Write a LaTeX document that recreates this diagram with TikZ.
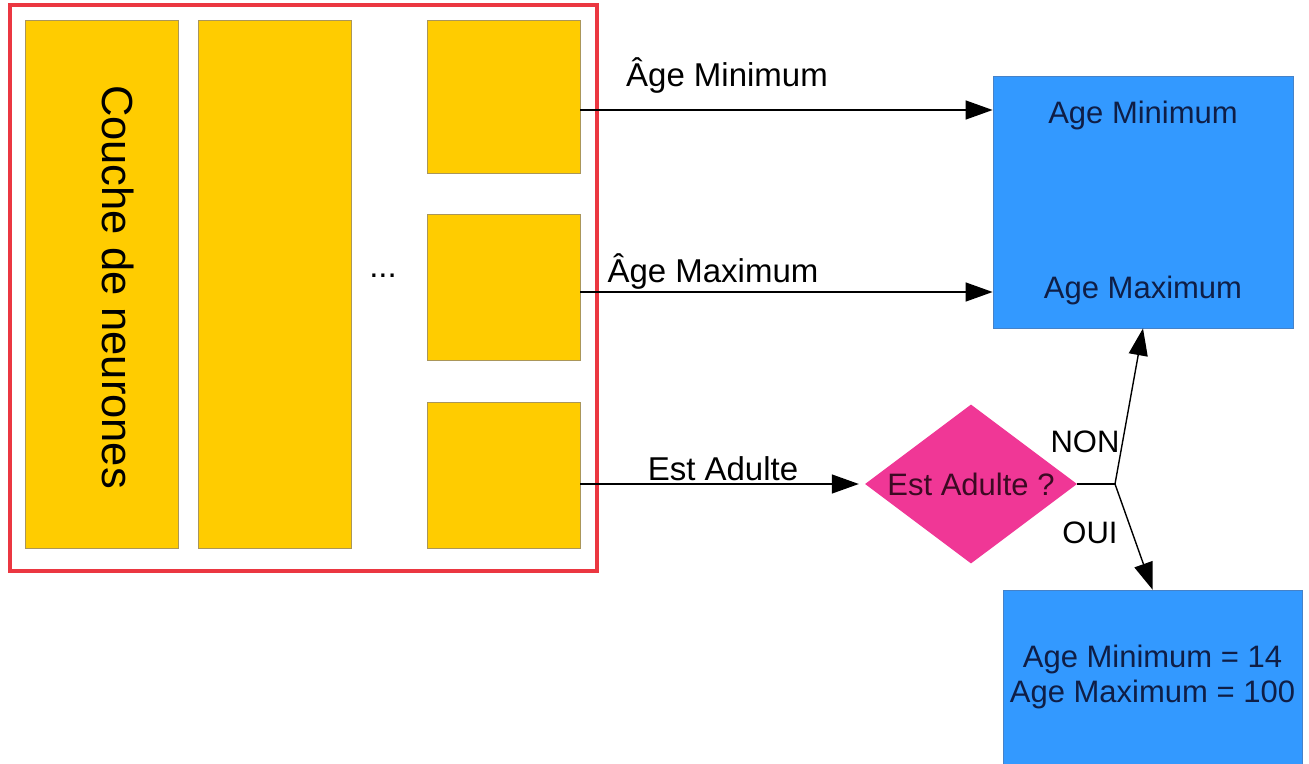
\documentclass[tikz,border=0pt]{standalone}
\usepackage{fontspec}
\setmainfont{Liberation Sans}
\usetikzlibrary{arrows.meta,shapes.geometric}
\definecolor{ylw}{RGB}{255,204,0}
\definecolor{yedge}{RGB}{170,150,90}
\definecolor{blu}{RGB}{51,153,255}
\definecolor{bedge}{RGB}{70,130,200}
\definecolor{pnk}{RGB}{240,55,150}
\definecolor{redf}{RGB}{235,55,65}
\definecolor{btxt}{RGB}{15,30,70}
\definecolor{ptxt}{RGB}{60,10,35}
\begin{document}
\begin{tikzpicture}[x=1pt,y=-1pt,
 ybox/.style={draw=yedge,fill=ylw,line width=0.8pt,inner sep=0,rectangle},
 bbox/.style={draw=bedge,fill=blu,line width=0.8pt,inner sep=0,rectangle},
 lbl/.style={font=\fontsize{33}{38}\selectfont,inner sep=0},
 btext/.style={font=\fontsize{31}{36}\selectfont,text=btxt,inner sep=0},
 arr/.style={line width=1.4pt,-{Triangle[length=27pt,width=19pt]}},
 ln/.style={line width=1.4pt}]
\clip (0,0) rectangle (1309,763);
\fill[white] (0,0) rectangle (1309,763);
% frame and layers
\node[draw=redf,line width=4pt,minimum width=587pt,minimum height=566pt,inner sep=0] (frame) at (303.5,288) {};
\node[ybox,minimum width=153pt,minimum height=528pt] (c1) at (101.5,284) {};
\node[ybox,minimum width=153pt,minimum height=528pt] (c2) at (274.5,284) {};
\node[ybox,minimum width=153pt,minimum height=153pt] (r1) at (503.5,96.5) {};
\node[ybox,minimum width=153pt,minimum height=146pt] (r2) at (503.5,287) {};
\node[ybox,minimum width=153pt,minimum height=146pt] (r3) at (503.5,475) {};
\node[font=\fontsize{43.5}{50}\selectfont,rotate=-90,inner sep=0] (couche) at (118,287) {Couche de neurones};
\node[lbl] (dots) at (383,276) {...};
% right side
\node[bbox,minimum width=300pt,minimum height=252pt] (b1) at (1143,202) {};
\node[btext] (b1a) at (1143,115) {Age Minimum};
\node[btext] (b1b) at (1143,290) {Age Maximum};
\node[bbox,minimum width=299pt,minimum height=180pt] (b2) at (1152.5,680) {};
\node[btext,align=center,font=\fontsize{31}{35}\selectfont] (b2t) at (1152.5,677) {Age Minimum = 14\\Age Maximum = 100};
\node[diamond,fill=pnk,minimum width=212pt,minimum height=159pt,inner sep=0] (d) at (971,484) {};
\node[btext,text=ptxt] (dt) at (971,484) {Est Adulte ?};
\coordinate (j) at (1115,484);
% connectors
\draw[arr] ([yshift=-13.5pt]r1.east) -- ([yshift=-13.5pt]r1.east -| b1.west);
\draw[arr] ([yshift=-5pt]r2.east) -- ([yshift=-5pt]r2.east -| b1.west);
\draw[arr] (r3.east |- d.west) -- ([xshift=-6pt]d.west);
\draw[ln] (d.east) -- (j);
\draw[arr] (j) -- (b1.south);
\draw[arr] (j) -- (b2.north);
% labels
\node[lbl] (l1) at (727,76) {Âge Minimum};
\node[lbl] (l2) at (713,271) {Âge Maximum};
\node[lbl] (l3) at (723,469) {Est Adulte};
\node[lbl,font=\fontsize{31}{36}\selectfont] (non) at (1085,442) {NON};
\node[lbl,font=\fontsize{31}{36}\selectfont] (oui) at (1090,533) {OUI};
\end{tikzpicture}
\end{document}
